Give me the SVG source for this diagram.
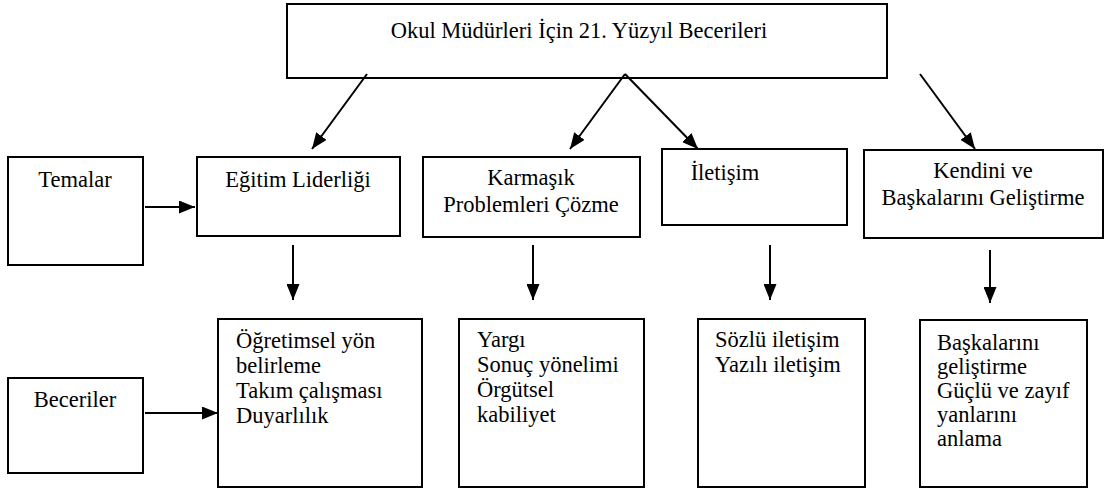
<svg xmlns="http://www.w3.org/2000/svg" width="1105" height="488" viewBox="0 0 1105 488">
<style>
.box{fill:#fff;stroke:#000;stroke-width:2}
.ln{stroke:#000;stroke-width:2;fill:none;marker-end:url(#ah)}
</style>
<defs>
<marker id="ah" markerUnits="userSpaceOnUse" markerWidth="16" markerHeight="13" viewBox="0 0 16 13" refX="16" refY="6.5" orient="auto">
<path d="M0,0 L16,6.5 L0,13 z" fill="#000"/>
</marker>
</defs>
<rect width="1105" height="488" fill="#fff"/>
<g id="title">
<rect class="box" x="287" y="4" width="600" height="74"/>
<text x="579" y="38" font-family="Liberation Serif" font-size="22.5" text-anchor="middle">Okul Müdürleri İçin 21. Yüzyıl Becerileri</text>
</g>
<g id="temalar">
<rect class="box" x="8" y="157" width="135" height="108"/>
<text x="75" y="187" font-family="Liberation Serif" font-size="22.5" text-anchor="middle">Temalar</text>
</g>
<g id="egitim">
<rect class="box" x="197" y="157" width="203" height="79"/>
<text x="298" y="187" font-family="Liberation Serif" font-size="22.5" text-anchor="middle">Eğitim Liderliği</text>
</g>
<g id="karmasik">
<rect class="box" x="423" y="157" width="217" height="80"/>
<text x="531" y="185" font-family="Liberation Serif" font-size="22.5" text-anchor="middle">Karmaşık</text>
<text x="531" y="212" font-family="Liberation Serif" font-size="22.5" text-anchor="middle">Problemleri Çözme</text>
</g>
<g id="iletisim">
<rect class="box" x="662" y="149" width="185" height="76"/>
<text x="725" y="180" font-family="Liberation Serif" font-size="22.5" text-anchor="middle">İletişim</text>
</g>
<g id="kendini">
<rect class="box" x="864" y="150" width="239" height="88"/>
<text x="983" y="178" font-family="Liberation Serif" font-size="22.5" text-anchor="middle">Kendini ve</text>
<text x="983" y="205" font-family="Liberation Serif" font-size="22.5" text-anchor="middle">Başkalarını Geliştirme</text>
</g>
<g id="beceriler">
<rect class="box" x="8" y="378" width="135" height="95"/>
<text x="75" y="407" font-family="Liberation Serif" font-size="22.5" text-anchor="middle">Beceriler</text>
</g>
<g id="b1">
<rect class="box" x="218" y="319" width="204" height="168"/>
<text x="236" y="348" font-family="Liberation Serif" font-size="22.5">Öğretimsel yön</text>
<text x="236" y="373" font-family="Liberation Serif" font-size="22.5">belirleme</text>
<text x="236" y="398" font-family="Liberation Serif" font-size="22.5">Takım çalışması</text>
<text x="236" y="423" font-family="Liberation Serif" font-size="22.5">Duyarlılık</text>
</g>
<g id="b2">
<rect class="box" x="459" y="319" width="185" height="168"/>
<text x="477" y="347" font-family="Liberation Serif" font-size="22.5">Yargı</text>
<text x="477" y="372" font-family="Liberation Serif" font-size="22.5">Sonuç yönelimi</text>
<text x="477" y="397" font-family="Liberation Serif" font-size="22.5">Örgütsel</text>
<text x="477" y="422" font-family="Liberation Serif" font-size="22.5">kabiliyet</text>
</g>
<g id="b3">
<rect class="box" x="698" y="319" width="167" height="168"/>
<text x="715" y="347" font-family="Liberation Serif" font-size="22.5">Sözlü iletişim</text>
<text x="715" y="372" font-family="Liberation Serif" font-size="22.5">Yazılı iletişim</text>
</g>
<g id="b4">
<rect class="box" x="920" y="320" width="167" height="167"/>
<text x="937" y="350" font-family="Liberation Serif" font-size="22.5">Başkalarını</text>
<text x="937" y="374" font-family="Liberation Serif" font-size="22.5">geliştirme</text>
<text x="937" y="398" font-family="Liberation Serif" font-size="22.5">Güçlü ve zayıf</text>
<text x="937" y="422" font-family="Liberation Serif" font-size="22.5">yanlarını</text>
<text x="937" y="446" font-family="Liberation Serif" font-size="22.5">anlama</text>
</g>
<g id="connectors">
<line class="ln" x1="367" y1="74" x2="312" y2="149"/>
<line class="ln" x1="625" y1="74" x2="570" y2="149"/>
<line class="ln" x1="625" y1="74" x2="698" y2="149"/>
<line class="ln" x1="920" y1="74" x2="975" y2="149"/>
<line class="ln" x1="145" y1="207" x2="195" y2="207"/>
<line class="ln" x1="145" y1="413" x2="218" y2="413"/>
<line class="ln" x1="293" y1="245" x2="293" y2="300"/>
<line class="ln" x1="533" y1="245" x2="533" y2="300"/>
<line class="ln" x1="770" y1="245" x2="770" y2="300"/>
<line class="ln" x1="990" y1="250" x2="990" y2="303"/>
</g>
</svg>
